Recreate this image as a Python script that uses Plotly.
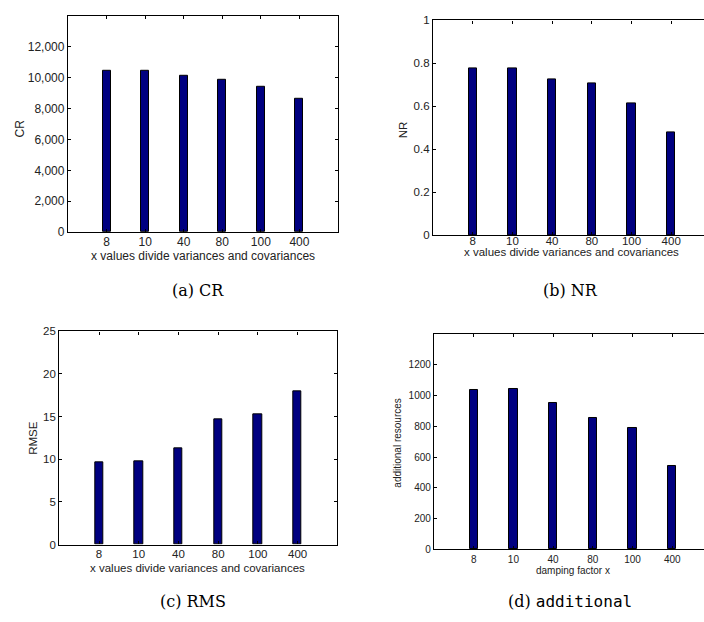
import plotly.graph_objects as go

categories = ["8", "10", "40", "80", "100", "400"]
cr_values = [10470, 10460, 10130, 9840, 9380, 8660]
nr_values = [0.779, 0.777, 0.727, 0.707, 0.615, 0.478]
rmse_values = [9.64, 9.80, 11.33, 14.66, 15.24, 17.99]
additional_values = [1038, 1042, 949, 855, 791, 540]

W, H = 704, 622
BAR = "#000080"
FONT = "Liberation Sans, Arial, sans-serif"

def px_x(a, b):
    return [a / W, min(b / W, 1.0)]

def px_y(top, bottom):
    return [1 - bottom / H, 1 - top / H]

fig = go.Figure()

panels = [
    (cr_values, px_x(68, 338), px_y(10, 231), [-1, 6], [0, 14000],
     [0, 2000, 4000, 6000, 8000, 10000, 12000], ",d", 12, "ticks", -2),
    (nr_values, px_x(433, 704), px_y(14.7, 234.3), [-1, 5.826], [0, 1],
     [0, 0.2, 0.4, 0.6, 0.8, 1], None, 11.5, False, -5),
    (rmse_values, px_x(59.3, 337.3), px_y(332.3, 550), [-1, 6], [0, 25],
     [0, 5, 10, 15, 20, 25], None, 11.5, "ticks", -1),
    (additional_values, px_x(434, 704), px_y(335, 555), [-1, 5.80], [0, 1400],
     [0, 200, 400, 600, 800, 1000, 1200], None, 10, False, 0),
]

layout = {}
for i, (vals, xd, yd, xr, yr, tv, tf, fs, mir, so) in enumerate(panels, start=1):
    sfx = "" if i == 1 else str(i)
    fig.add_trace(go.Bar(
        x=categories, y=vals,
        xaxis="x" + sfx, yaxis="y" + sfx,
        width=0.21,
        marker=dict(color=BAR, line=dict(color="black", width=1)),
        showlegend=False, hoverinfo="x+y",
    ))
    layout["xaxis" + sfx] = dict(
        domain=xd, anchor="y" + sfx, type="category",
        range=xr, showline=True, linecolor="black", linewidth=1.3,
        mirror="ticks", ticks="inside", ticklen=3, tickcolor="black",
        showgrid=False, zeroline=False, fixedrange=True,
        ticklabelstandoff=so,
        tickfont=dict(family=FONT, size=fs, color="#222"),
    )
    yax = dict(
        domain=yd, anchor="x" + sfx, range=yr,
        showline=True, linecolor="black", linewidth=1.3,
        mirror=mir, ticks="inside", ticklen=3, tickcolor="black",
        showgrid=False, zeroline=False, fixedrange=True,
        tickvals=tv,
        tickfont=dict(family=FONT, size=fs, color="#222"),
    )
    if tf:
        yax["tickformat"] = tf
    layout["yaxis" + sfx] = yax

def ann(text, x, y, size, angle=0, family=FONT, color="#222"):
    return dict(text=text, x=x / W, y=1 - y / H, xref="paper", yref="paper",
                showarrow=False, textangle=angle, xanchor="center",
                yanchor="middle", font=dict(family=family, size=size, color=color))

SERIF = "DejaVu Serif, Liberation Serif, serif"
annotations = [
    ann("CR", 20, 125, 12, -90),
    ann("x values divide variances and covariances", 203, 255, 12),
    ann("NR", 403, 126, 11.5, -90),
    ann("x values divide variances and covariances", 571, 251, 11.5),
    ann("RMSE", 33, 441, 11.5, -90),
    ann("x values divide variances and covariances", 197, 573.5, 11.5),
    ann("additional resources", 398, 446, 10, -90),
    ann("damping factor x", 573, 577, 10),
    ann("(a) CR", 198, 291, 16, family=SERIF, color="black"),
    ann("(b) NR", 570, 291, 16, family=SERIF, color="black"),
    ann("(c) RMS", 193, 608, 16, family=SERIF, color="black"),
    ann("(d) <span style='font-family:DejaVu Sans Mono, Liberation Mono, monospace'>additional</span>",
        570, 608, 16, family=SERIF, color="black"),
]

fig.update_layout(
    width=W, height=H,
    margin=dict(l=0, r=0, t=0, b=0),
    paper_bgcolor="white", plot_bgcolor="white",
    showlegend=False, bargap=0,
    annotations=annotations,
    **layout,
)

post = (
    "document.documentElement.style.margin='0px';"
    "document.body.style.margin='0px';"
    "document.body.style.overflow='hidden';"
    "document.documentElement.style.overflow='hidden';"
)

fig.write_html(
    "out.html",
    config={"displayModeBar": False},
    post_script=post,
)
